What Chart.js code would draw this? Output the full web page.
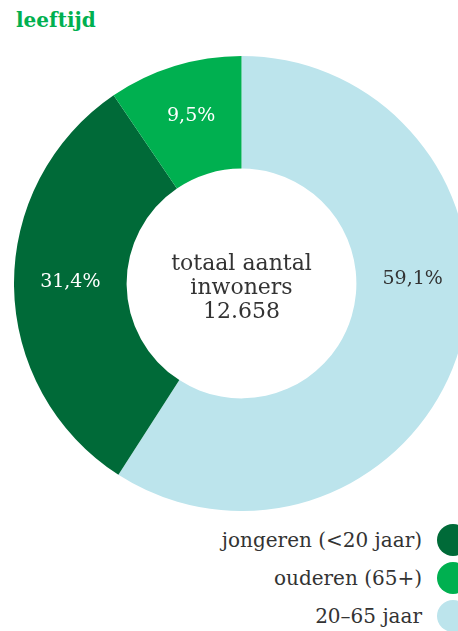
<!DOCTYPE html>
<html lang="nl">
<head>
    <meta charset="UTF-8">
    <title>leeftijd</title>
    <style>
        html, body {
            margin: 0;
            padding: 0;
            width: 458px;
            height: 631px;
            overflow: hidden;
            background: #fff;
            font-family: "DejaVu Serif", serif;
        }
        h1 {
            position: absolute;
            left: 16px;
            top: 8px;
            margin: 0;
            font-size: 20px;
            font-weight: bold;
            color: #00b050;
        }
        .chart-box {
            position: absolute;
            left: 14px;
            top: 56px;
            width: 455px;
            height: 455px;
        }
        /* legend rows, right aligned, dots get clipped by the window edge */
        .legend {
            position: absolute;
            right: -11px;
            top: 521px;
        }
        .legend-row {
            display: flex;
            align-items: center;
            justify-content: flex-end;
            height: 38px;
            font-size: 20px;
            color: #333;
        }
        .legend-row span.dot {
            width: 32px;
            height: 32px;
            border-radius: 50%;
            margin-left: 15px;
        }
    </style>
    <script src="https://cdn.jsdelivr.net/npm/chart.js"></script>
</head>
<body>
    <h1>leeftijd</h1>
    <div class="chart-box">
        <canvas id="age-chart"></canvas>
    </div>
    <div class="legend" id="legend"></div>

    <script>
        // data, clockwise from the top
        const categories = ['20–65 jaar', 'jongeren (<20 jaar)', 'ouderen (65+)'];
        const shares = [59.1, 31.4, 9.5];
        const sliceColors = ['#bce4ec', '#006a38', '#00b050'];
        const labelColors = ['#333333', '#ffffff', '#ffffff'];
        const legendOrder = [1, 2, 0];
        const centerLines = ['totaal aantal', 'inwoners', '12.658'];

        // the big slice has its label at the right side instead of the middle
        const labelAngle = [Math.PI / 2, null, null];

        function fmt(v) {
            return v.toFixed(1).replace('.', ',') + '%';
        }

        // build legend from the arrays
        const legend = document.getElementById('legend');
        legendOrder.forEach(function (i) {
            const row = document.createElement('div');
            row.className = 'legend-row';
            const txt = document.createElement('span');
            txt.textContent = categories[i];
            const dot = document.createElement('span');
            dot.className = 'dot';
            dot.style.background = sliceColors[i];
            row.appendChild(txt);
            row.appendChild(dot);
            legend.appendChild(row);
        });

        const labelPlugin = {
            id: 'sliceLabels',
            afterDraw(chart) {
                const ctx = chart.ctx;
                const meta = chart.getDatasetMeta(0);
                ctx.save();
                ctx.textAlign = 'center';
                ctx.textBaseline = 'middle';
                ctx.font = '19px "DejaVu Serif"';
                meta.data.forEach(function (arc, i) {
                    const p = arc.getProps(['x', 'y', 'startAngle', 'endAngle', 'innerRadius', 'outerRadius']);
                    const r = (p.innerRadius + p.outerRadius) / 2;
                    let a = (p.startAngle + p.endAngle) / 2;
                    if (labelAngle[i] !== null) a = labelAngle[i] - Math.PI / 2;
                    ctx.fillStyle = labelColors[i];
                    ctx.fillText(fmt(shares[i]), p.x + Math.cos(a) * r, p.y + Math.sin(a) * r - 4);
                });

                // text in the hole
                const c = meta.data[0];
                ctx.fillStyle = '#333333';
                ctx.font = '22px "DejaVu Serif"';
                const lh = 24;
                centerLines.forEach(function (line, k) {
                    ctx.fillText(line, c.x, c.y - lh + k * lh + 5);
                });
                ctx.restore();
            }
        };

        new Chart(document.getElementById('age-chart'), {
            type: 'doughnut',
            data: {
                labels: categories,
                datasets: [{
                    data: shares,
                    backgroundColor: sliceColors,
                    borderWidth: 0,
                    hoverOffset: 0
                }]
            },
            options: {
                responsive: true,
                maintainAspectRatio: false,
                animation: false,
                cutout: '50.5%',
                layout: { padding: 0 },
                plugins: {
                    legend: { display: false },
                    tooltip: { enabled: false }
                }
            },
            plugins: [labelPlugin]
        });
    </script>
</body>
</html>
